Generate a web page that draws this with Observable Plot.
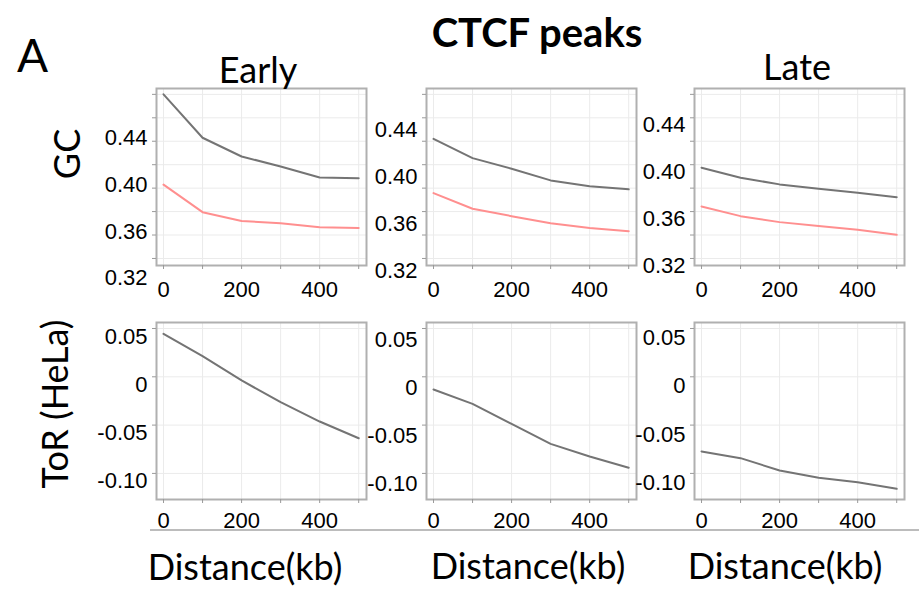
<!DOCTYPE html>
<html>
<head>
<meta charset="utf-8">
<script src="https://cdn.jsdelivr.net/npm/d3@7"></script>
<script src="https://cdn.jsdelivr.net/npm/@observablehq/plot@0.6"></script>
<style>
  body { margin: 0; background: #fff; }
  #fig { position: relative; width: 919px; height: 592px; overflow: hidden; background: #fff; }
  #fig svg { position: absolute; }
</style>
</head>
<body>
<div id="fig"></div>
<script>
// Distance from CTCF peaks (kb)
const distanceKb = [0, 100, 200, 300, 400, 500];
const columnTitles = ["Early", "", "Late"];

// GC content: two series per replication-timing group
const gcEarlyA = [0.480, 0.443, 0.427, 0.4185, 0.409, 0.4085];
const gcEarlyB = [0.403, 0.3795, 0.372, 0.370, 0.3667, 0.366];
const gcMidA   = [0.442, 0.4256, 0.4166, 0.4066, 0.4017, 0.399];
const gcMidB   = [0.3958, 0.3824, 0.3761, 0.3701, 0.3659, 0.3633];
const gcLateA  = [0.4174, 0.4089, 0.4032, 0.3995, 0.3961, 0.3923];
const gcLateB  = [0.3844, 0.3761, 0.3710, 0.3676, 0.3645, 0.3602];

// Timing of replication in HeLa
const torEarly = [0.0445, 0.0213, -0.0038, -0.0263, -0.0463, -0.0636];
const torMid   = [-0.0131, -0.0280, -0.0487, -0.0694, -0.0825, -0.0942];
const torLate  = [-0.0773, -0.0842, -0.0970, -0.1045, -0.1091, -0.1159];

// Axis ticks
const xLabelTicks = [0, 200, 400];
const gcGridTicks = [0.34, 0.36, 0.38, 0.40, 0.42, 0.44, 0.46, 0.48];
const gcLabelTicks = [0.32, 0.36, 0.40, 0.44];
const torTicks = [0.05, 0, -0.05, -0.10];

const fmt = d => d === 0 ? "0" : d.toFixed(2);

const frameW = 210, frameH = 177;
const mL = 60, mR = 10, mT = 10, mB = 40;
const colLeft = [156, 426, 694];
const rowTop = [88, 322];
const tickFont = 22;

const rows = [
  {
    domain: [0.334, 0.485],
    gridTicks: gcGridTicks,
    labelTicks: gcLabelTicks,
    labelDy: [-3.5, -11, -16],
    xPad: 16,
    series: [[gcEarlyA, gcEarlyB], [gcMidA, gcMidB], [gcLateA, gcLateB]]
  },
  {
    domain: [-0.127, 0.0562],
    gridTicks: torTicks,
    labelTicks: torTicks,
    labelDy: [8, 11, 9.5],
    xPad: 12.5,
    series: [[torEarly], [torMid], [torLate]]
  }
];
const lineColors = ["#747474", "#ff8f8f"];

const fig = document.getElementById("fig");

rows.forEach((row, r) => {
  row.series.forEach((group, c) => {
    const plot = Plot.plot({
      width: mL + frameW + mR,
      height: mT + frameH + mB,
      marginLeft: mL, marginRight: mR, marginTop: mT, marginBottom: mB,
      style: {
        background: "none",
        overflow: "visible",
        fontFamily: "'Liberation Sans', Arial, sans-serif",
        fontSize: tickFont + "px",
        color: "#000"
      },
      x: {domain: [-18, 520]},
      y: {domain: row.domain},
      marks: [
        Plot.gridX({ticks: distanceKb, stroke: "#ebebeb", strokeOpacity: 1}),
        Plot.gridY({ticks: row.gridTicks, stroke: "#ebebeb", strokeOpacity: 1}),
        Plot.frame({stroke: "#b0b0b0", strokeWidth: 2}),
        Plot.axisX({ticks: distanceKb, tickSize: 4, stroke: "#9a9a9a", fill: "none", label: null}),
        Plot.axisX({ticks: xLabelTicks, tickSize: 0, tickPadding: row.xPad, tickFormat: d => String(d), label: null, fontSize: tickFont}),
        Plot.axisY({ticks: row.gridTicks, tickSize: 4, stroke: "#9a9a9a", fill: "none", label: null}),
        Plot.axisY({ticks: row.labelTicks, tickSize: 0, tickPadding: 9, tickFormat: fmt, dy: row.labelDy[c], label: null, fontSize: tickFont}),
        ...group.map((values, k) =>
          Plot.lineY(values, {x: distanceKb, stroke: lineColors[k], strokeWidth: 2})
        )
      ]
    });
    plot.style.left = (colLeft[c] - mL) + "px";
    plot.style.top = (rowTop[r] - mT) + "px";
    fig.appendChild(plot);
  });
});

// Titles, row labels and axis titles
const overlay = d3.select(fig).append("svg")
  .attr("width", 919).attr("height", 592)
  .style("left", "0px").style("top", "0px")
  .style("pointer-events", "none")
  .attr("font-family", "Lato, 'Open Sans', sans-serif")
  .attr("fill", "#000");

overlay.append("line")
  .attr("x1", 150).attr("x2", 919).attr("y1", 530).attr("y2", 530)
  .attr("stroke", "#a6a6a6").attr("stroke-width", 1.5);

overlay.append("text").attr("x", 17).attr("y", 72)
  .attr("font-size", 46).text("A");
overlay.append("text").attr("x", 537).attr("y", 47)
  .attr("font-size", 40).attr("font-weight", "bold").attr("text-anchor", "middle").text("CTCF peaks");

const titleX = [258, 528, 797], titleY = [83, 83, 80];
columnTitles.forEach((t, i) => {
  if (!t) return;
  overlay.append("text").attr("x", titleX[i]).attr("y", titleY[i])
    .attr("font-size", 36).attr("text-anchor", "middle").text(t);
});

[["GC", 80, 154], ["ToR (HeLa)", 68, 404]].forEach(([t, x, y]) => {
  overlay.append("text").attr("transform", `translate(${x},${y}) rotate(-90)`)
    .attr("font-size", 36).attr("text-anchor", "middle").text(t);
});

[[245, 580], [528, 579], [785, 579]].forEach(([x, y]) => {
  overlay.append("text").attr("x", x).attr("y", y)
    .attr("font-size", 36).attr("text-anchor", "middle").text("Distance(kb)");
});
</script>
</body>
</html>
